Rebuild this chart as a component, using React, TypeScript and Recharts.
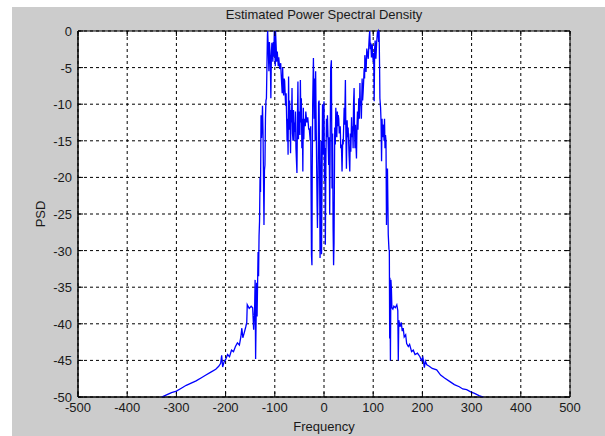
import { CartesianGrid, Line, LineChart, ReferenceArea, XAxis, YAxis } from 'recharts'

// frequency (Hz) and estimated PSD (dB)
const freq = [
  -330, -320, -310, -300, -290, -280, -270, -260, -250, -240, -230, -220, -214, -210, -208, -206, -203, -200,
  -196, -192, -188, -184, -180, -176, -172, -169, -167, -165, -162, -159, -157, -156, -152, -148, -145, -143,
  -141, -140, -139, -137, -136, -134, -133, -132, -131, -130, -129, -128, -127, -126, -125, -124, -122, -121,
  -120, -119, -118, -117, -116, -115, -114.5, -113, -112, -111, -110, -109, -108, -107, -106, -105, -104, -103,
  -102, -101, -100, -99, -98.5, -97, -96.5, -95, -93, -92, -90, -88, -87, -85, -84, -83, -82, -81, -80, -78,
  -77, -75, -74, -73, -72, -71, -70, -69, -68, -67, -66, -65, -64, -63, -62, -61, -60, -59, -58, -57, -55, -54,
  -53, -52, -51, -50, -49, -48, -47, -46, -45, -44, -43, -42, -41, -40, -38, -37, -35, -33, -31, -30, -28, -27,
  -25.5, -24.5, -24, -23, -21.5, -20, -19, -18, -17, -16, -15, -14, -13.3, -12, -11, -10, -9, -8, -7, -6, -5,
  -4, -3, -2, -1, 0, 1, 2, 2.7, 4, 5, 6, 7, 8, 9.5, 10.5, 11.6, 12.5, 13.6, 15, 16.3, 17.5, 18.5, 19.5, 20.4,
  21.8, 23, 24, 25, 26, 27.2, 28, 29, 30, 31, 33, 34, 35.4, 36.7, 38, 39, 40, 41, 42, 43.5, 44.5, 45.6, 47, 48,
  49, 50, 51, 52.4, 53.5, 54.5, 56, 57, 58, 59.2, 60, 61.2, 62, 63, 64, 65, 66, 67, 68, 69, 70.7, 72, 73, 74,
  75, 76, 77.5, 78.5, 79.5, 80.5, 81.6, 82.5, 83, 84.5, 85.5, 87, 88.5, 90, 91, 91.8, 92.5, 93, 94, 95, 96.5,
  98, 99, 100, 101, 102, 103, 104, 105.5, 107, 108.5, 110, 111, 112, 113, 113.6, 115, 116, 117, 118, 119, 120,
  121, 122, 123, 124, 125, 126, 127, 128, 129, 130.6, 132, 132.8, 133.5, 134, 135, 136, 137, 138, 140, 142,
  145, 148, 150, 151, 152, 154.5, 157, 159, 161, 163, 166, 168, 171.3, 174, 178, 181.5, 185, 190, 195, 198,
  201, 204, 206, 209, 214, 220, 229, 237, 245, 256, 265, 275, 282, 290, 298, 306, 315, 324,
]

const psd = [
  -50, -49.7, -49.4, -49.2, -48.8, -48.4, -48.1, -47.8, -47.4, -47, -46.6, -46.2, -45.8, -45.4, -44.3, -45.9, -45.2, -44.9,
  -44.2, -44.5, -43.6, -43.8, -43.1, -42.6, -42.9, -41.8, -40.6, -41.9, -41.2, -40.4, -39.8, -37.4, -37.9, -37.6, -37.8, -40.8,
  -37.9, -34, -44.8, -34.4, -39, -30.2, -33.5, -28, -26, -20, -22, -11.5, -14.6, -13, -10.2, -13.5, -26.5, -19,
  -18.3, -12, -9.5, -9.2, -5, -0.5, 0, -3, -5.5, -1.5, -2.6, -4.5, -9.2, -3.5, -1.6, -2.8, -4.2, -1.5,
  -3.5, 0, -2.4, -4.8, 0, -2.5, -4.2, -2.8, -4.8, -3.6, -5.2, -4.4, -6, -8.5, -5, -7.8, -8.8, -6.5, -6.8, -10.2,
  -8.5, -15.1, -12, -16.9, -6.2, -13.5, -9.5, -11.7, -16.7, -10.8, -12.5, -7.8, -14, -15, -10.8, -15, -12.5, -13.8, -11, -16, -19.4, -12,
  -6.9, -14.8, -11.5, -11, -14.2, -6.7, -12.5, -9.2, -16, -12, -19.2, -10.5, -14.8, -12, -13, -11, -12.5, -11.8, -13.5, -13.3, -15, -13,
  -30.5, -32, -20, -10, -3.7, -12, -6.5, -15, -5.5, -12, -18, -24, -26.9, -20, -9.8, -9.5, -18, -31, -26.9, -15, -30.5,
  -20, -10, -16.9, -12.8, -9.6, -20.5, -16, -29.2, -16.9, -12, -14.5, -11.5, -14, -18.3, -14.5, -25.1, -16, -5.1, -4, -21.5, -14, -27, -32, -29,
  -13.2, -15.5, -10.5, -12.4, -14.5, -11, -13, -11.5, -12, -14, -13, -16, -15.5, -19.2, -14.8, -15.5, -13, -10.5, -12.8, -6.7, -14, -18.8, -12.2, -14.5,
  -13.2, -15, -17, -19.2, -14, -16.5, -11.8, -14.5, -13, -16, -10, -7.8, -13, -16, -12.8, -15.5, -17.4, -13.2, -11, -13.5, -9.2, -12, -7.1, -10.2,
  -9.6, -12, -6.5, -9.5, -8.4, -7, -5.1, -6.5, -3.3, -4.5, -5.6, -2.4, -3.2, -3.8, -2.1, -1, -0.3, 0, -2.5, -1.6, -3.6,
  -1.8, -3.1, -4.2, -3, -9.6, -2.4, -1.3, -3.8, -1.6, -0.2, 0, -1.5, 0, -5, -9.2, -10.5, -12.4, -17.8, -12, -14.5, -13,
  -12.8, -15, -12, -16, -14.2, -15, -26.5, -20, -18.8, -27.8, -29.8, -30, -42, -33.7, -45, -34, -35.2, -37.8, -38, -37.6,
  -37.8, -37.4, -38.2, -45, -39.5, -40.4, -39.8, -41, -40.6, -41.8, -41.5, -42.7, -43.1, -42.8, -43.8, -43.6, -44.2, -44, -44.5, -45,
  -44.6, -46, -45.1, -45.6, -45.8, -46.1, -46.3, -47, -47.4, -47.9, -48.3, -48.6, -48.9, -49, -49.3, -49.5, -49.8, -50,
]

const xTicks = [-500, -400, -300, -200, -100, 0, 100, 200, 300, 400, 500]
const yTicks = [-50, -45, -40, -35, -30, -25, -20, -15, -10, -5, 0]

const data = freq.map((f, i) => ({ f, psd: psd[i] }))

const W = 605
const H = 436
const PLOT_LEFT = 78
const PLOT_TOP = 31
const PLOT_RIGHT = 570
const PLOT_BOTTOM = 397
const Y_AXIS_W = 40
const X_AXIS_H = 30

const font = '"Liberation Sans", Arial, sans-serif'
const textColor = '#1a1a1a'

function XTick(props: any) {
  const { x, y, payload } = props
  const cx = payload.coordinate
  return (
    <g>
      <line x1={cx} x2={cx} y1={PLOT_BOTTOM} y2={PLOT_BOTTOM - 5} stroke="#000" />
      <line x1={cx} x2={cx} y1={PLOT_TOP} y2={PLOT_TOP + 5} stroke="#000" />
      <text x={x} y={y + 13} textAnchor="middle" fontSize={13} fontFamily={font} fill={textColor}>
        {payload.value}
      </text>
    </g>
  )
}

function YTick(props: any) {
  const { x, y, payload } = props
  const cy = payload.coordinate
  return (
    <g>
      <line x1={PLOT_LEFT} x2={PLOT_LEFT + 5} y1={cy} y2={cy} stroke="#000" />
      <line x1={PLOT_RIGHT} x2={PLOT_RIGHT - 5} y1={cy} y2={cy} stroke="#000" />
      <text x={x} y={y + 5} textAnchor="end" fontSize={13} fontFamily={font} fill={textColor}>
        {payload.value}
      </text>
    </g>
  )
}

export default function App() {
  return (
    <div style={{ position: 'absolute', left: 0, top: 0, width: W, height: H, background: '#fff', fontFamily: font }}>
      <div style={{ position: 'absolute', left: 12, top: 7, width: W - 12, height: H - 7, background: '#cccccc' }} />
      <div
        style={{
          position: 'absolute',
          left: PLOT_LEFT,
          width: PLOT_RIGHT - PLOT_LEFT,
          top: 7,
          textAlign: 'center',
          fontSize: 13,
          lineHeight: '16px',
          color: textColor,
        }}
      >
        Estimated Power Spectral Density
      </div>
      <div
        style={{
          position: 'absolute',
          left: 40,
          top: 214,
          transform: 'translate(-50%, -50%) rotate(-90deg)',
          fontSize: 13,
          color: textColor,
          whiteSpace: 'nowrap',
        }}
      >
        PSD
      </div>
      <div
        style={{
          position: 'absolute',
          left: PLOT_LEFT,
          width: PLOT_RIGHT - PLOT_LEFT,
          top: 419,
          textAlign: 'center',
          fontSize: 13,
          lineHeight: '16px',
          color: textColor,
        }}
      >
        Frequency
      </div>
      <div style={{ position: 'absolute', left: 0, top: 0 }}>
        <LineChart
          width={W}
          height={H}
          data={data}
          margin={{
            top: PLOT_TOP,
            right: W - PLOT_RIGHT,
            left: PLOT_LEFT - Y_AXIS_W,
            bottom: H - PLOT_BOTTOM - X_AXIS_H,
          }}
        >
          <CartesianGrid fill="#fff" stroke="#000" strokeDasharray="3 3" verticalValues={xTicks} horizontalValues={yTicks} />
          <XAxis
            dataKey="f"
            type="number"
            domain={[-500, 500]}
            ticks={xTicks}
            interval={0}
            height={X_AXIS_H}
            tickLine={false}
            tickSize={2}
            tickMargin={0}
            axisLine={{ stroke: '#000' }}
            tick={<XTick />}
          />
          <YAxis
            type="number"
            domain={[-50, 0]}
            ticks={yTicks}
            interval={0}
            width={Y_AXIS_W}
            tickLine={false}
            tickSize={6}
            tickMargin={0}
            axisLine={{ stroke: '#000' }}
            tick={<YTick />}
          />
          <Line
            type="linear"
            dataKey="psd"
            stroke="#0000ff"
            strokeWidth={1.3}
            dot={false}
            isAnimationActive={false}
          />
          <ReferenceArea x1={-500} x2={500} y1={-50} y2={0} fill="none" stroke="#000" />
        </LineChart>
      </div>
    </div>
  )
}
